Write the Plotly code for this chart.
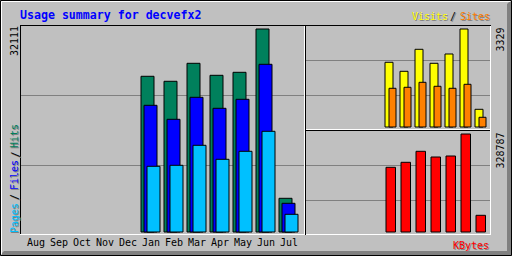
import plotly.graph_objects as go

W, H = 512, 256

months = ["Aug", "Sep", "Oct", "Nov", "Dec", "Jan", "Feb", "Mar", "Apr", "May", "Jun", "Jul"]
hits   = [None, None, None, None, None, 24630, 23840, 26685, 24787, 25262, 32111, 5331]
files  = [None, None, None, None, None, 20042, 17827, 21307, 19567, 20991, 26527, 4540]
pages  = [None, None, None, None, None, 10393, 10551, 13714, 11500, 12765, 15929, 2800]
visits = [None, None, None, None, None, 2198, 1892, 2639, 2164, 2480, 3329, 601]
sites  = [None, None, None, None, None, 1315, 1349, 1518, 1383, 1315, 1450, 330]
kbytes = [None, None, None, None, None, 217060, 233840, 270740, 251620, 254970, 328787, 56030]

title_text = "Usage summary for decvefx2"

C_HITS, C_FILES, C_PAGES = "#00805c", "#0000ff", "#00c0ff"
C_VISITS, C_SITES, C_KB = "#ffff00", "#ff8000", "#ff0000"
BG, DK, GRID = "#c0c0c0", "#808080", "#808080"
MONO = "DejaVu Sans Mono"

idx = list(range(len(months)))
M1 = max(v for v in hits if v)
M2 = max(max(v for v in visits if v), max(v for v in sites if v))
M3 = max(v for v in kbytes if v)


def px(p):
    return p / W


def py(p):
    return 1 - p / H


fig = go.Figure()


def bar(y, color, off, w, xa, ya):
    fig.add_trace(go.Bar(
        x=idx, y=y, offset=off, width=w, xaxis=xa, yaxis=ya,
        marker=dict(color=color, line=dict(color="black", width=1)),
        showlegend=False, hoverinfo="skip"))


# left panel: month step 23px, bar 13px
bar(hits, C_HITS, 0, 13 / 23, "x", "y")
bar(files, C_FILES, 3 / 23, 13 / 23, "x", "y")
bar(pages, C_PAGES, 6 / 23, 13 / 23, "x", "y")
# right panels: month step 15px
bar(visits, C_VISITS, 0, 8 / 15, "x2", "y2")
bar(sites, C_SITES, 4 / 15, 7 / 15, "x2", "y2")
bar(kbytes, C_KB, 1 / 15, 9.5 / 15, "x3", "y3")

common_y = dict(showticklabels=False, ticks="", zeroline=False, showline=False,
                gridcolor=GRID, gridwidth=1, fixedrange=True)
common_x = dict(showgrid=False, zeroline=False, showline=False, ticks="", fixedrange=True)

fig.update_layout(
    width=W, height=H, margin=dict(l=0, r=0, t=0, b=0, pad=0),
    paper_bgcolor=BG, plot_bgcolor=BG, barmode="overlay",
    xaxis=dict(domain=[px(20), px(305)], range=[-6 / 23, 279 / 23], anchor="y",
               tickvals=[i + 10 / 23 for i in idx], ticktext=months,
               tickfont=dict(family=MONO, size=10, color="black"), **common_x),
    yaxis=dict(domain=[py(235), py(25)], range=[-3 / 203 * M1, 207 / 203 * M1], anchor="x",
               tickvals=[67 / 203 * M1, 137 / 203 * M1], **common_y),
    xaxis2=dict(domain=[px(305), px(490)], range=[-5 / 15, 180 / 15], anchor="y2",
                showticklabels=False, **common_x),
    yaxis2=dict(domain=[py(130), py(25)], range=[-3 / 98 * M2, 102 / 98 * M2], anchor="x2",
                tickvals=[32 / 98 * M2, 67 / 98 * M2], **common_y),
    xaxis3=dict(domain=[px(305), px(490)], range=[-5 / 15, 180 / 15], anchor="y3",
                showticklabels=False, **common_x),
    yaxis3=dict(domain=[py(235), py(130)], range=[-3 / 98 * M3, 102 / 98 * M3], anchor="x3",
                tickvals=[32 / 98 * M3, 67 / 98 * M3], **common_y),
)

shapes = []


def line(x0, y0, x1, y1, color):
    shapes.append(dict(type="line", xref="paper", yref="paper",
                       x0=px(x0), y0=py(y0), x1=px(x1), y1=py(y1),
                       line=dict(color=color, width=1), layer="above"))


# outer bevel
shapes.append(dict(type="path", xref="paper", yref="paper", layer="above",
                   path=f"M {px(511)},{py(0)} L {px(507)},{py(4)} L {px(507)},{py(251)} "
                        f"L {px(4)},{py(251)} L {px(0)},{py(255)} L {px(511)},{py(255)} Z",
                   fillcolor=DK, line=dict(width=0)))
line(1.5, 1.5, 510.5, 1.5, "white")
line(1.5, 1.5, 1.5, 254.5, "white")
shapes.append(dict(type="rect", xref="paper", yref="paper", layer="above",
                   x0=px(0.5), y0=py(0.5), x1=px(511.5), y1=py(255.5),
                   line=dict(color="black", width=1)))

# inner frames
line(20, 25.5, 491, 25.5, "black")
line(20.5, 25, 20.5, 235, "black")
line(20, 234.5, 491, 234.5, "white")
line(304.5, 26, 304.5, 235, "white")
line(305.5, 26, 305.5, 235, "black")
line(306, 129.5, 491, 129.5, "white")
line(306, 130.5, 491, 130.5, "black")
line(490.5, 26, 490.5, 235, "white")

fig.update_layout(shapes=shapes)

ann = []


def txt(s, x, y, color, size=10, bold=False, angle=0, xa="left", ya="middle", shadow=False):
    fam = MONO
    t = f"<b>{s}</b>" if bold else s
    if shadow:
        ann.append(dict(text=t, x=px(x + 1), y=py(y + 1), xref="paper", yref="paper",
                        xanchor=xa, yanchor=ya, showarrow=False, textangle=angle,
                        borderpad=0, borderwidth=0,
                        font=dict(family=fam, size=size, color=DK)))
    ann.append(dict(text=t, x=px(x), y=py(y), xref="paper", yref="paper",
                    xanchor=xa, yanchor=ya, showarrow=False, textangle=angle,
                    borderpad=0, borderwidth=0,
                    font=dict(family=fam, size=size, color=color)))


txt(title_text, 20, 14.5, C_FILES, size=11.6, bold=True)
txt("Visits", 412, 16, C_VISITS, shadow=True)
txt("/", 450, 16, "black", shadow=True)
txt("Sites", 460, 16, C_SITES, shadow=True)
txt("KBytes", 453, 245, C_KB, shadow=True)

txt(str(M1), 14.5, 26.5, "black", angle=-90, xa="center", ya="top")
txt(str(M2), 500, 27.5, "black", angle=-90, xa="center", ya="top")
txt(str(M3), 500, 132.5, "black", angle=-90, xa="center", ya="top")

txt("Pages", 14.5, 233.5, C_PAGES, angle=-90, xa="center", ya="bottom", shadow=True)
txt("/", 14.5, 200.5, "black", angle=-90, xa="center", ya="bottom", shadow=True)
txt("Files", 14.5, 190.5, C_FILES, angle=-90, xa="center", ya="bottom", shadow=True)
txt("/", 14.5, 158, "black", angle=-90, xa="center", ya="bottom", shadow=True)
txt("Hits", 14.5, 148.5, C_HITS, angle=-90, xa="center", ya="bottom", shadow=True)

fig.update_layout(annotations=ann)

fig.write_html("out.html")
